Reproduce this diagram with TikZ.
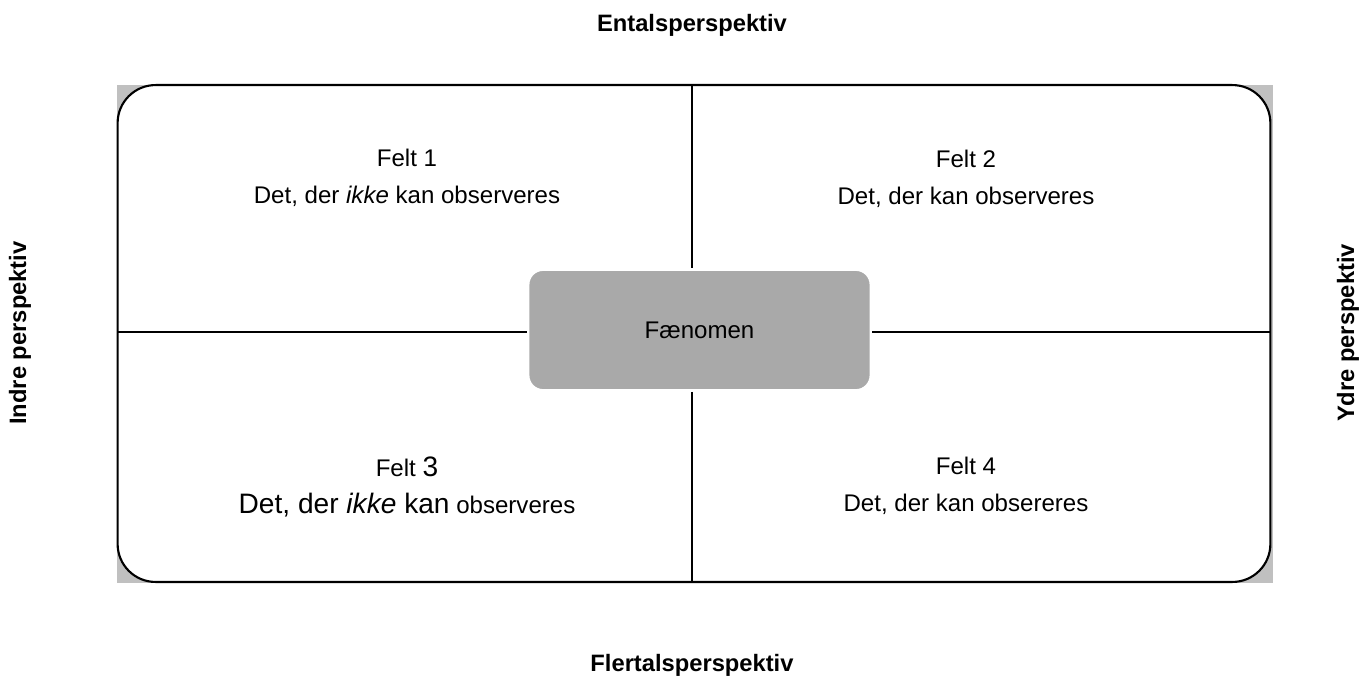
\documentclass[tikz,border=0pt]{standalone}
\usepackage{fontspec}
\setmainfont{Liberation Sans}
\usetikzlibrary{positioning}
\definecolor{bggray}{HTML}{C0C0C0}
\definecolor{fengray}{HTML}{A9A9A9}
\tikzset{
	felt/.style={align=center,font=\fontsize{13.7}{21}\selectfont},
	axis label/.style={font=\bfseries\fontsize{13.5}{16}\selectfont}
}
\begin{document}
\begin{tikzpicture}[x=0.02cm,y=-0.02cm,line join = round, line cap = round]
		\useasboundingbox (0,0) rectangle (1367,680);
		\fill[bggray] (117,85) rectangle (1273,583);
		\node[draw,line width=1.2pt,fill=white,rounded corners=0.76cm,minimum width=23.06cm,minimum height=9.94cm,outer sep=0pt] (frame) at (694,333.5) {};
		\node[fill=fengray,draw=white,line width=1.6pt,rounded corners=0.3cm,minimum width=6.86cm,minimum height=2.42cm,font=\fontsize{13.7}{16}\selectfont] (feno) at (699.5,330) {Fænomen};
		\draw[line width=0.9pt,line cap=butt] (frame.north -| 692,0)--(692,0 |- feno.north) (692,0 |- feno.south)--(frame.south -| 692,0);
		\draw[line width=0.9pt,line cap=butt] (frame.west |- 0,332)--(feno.west |- 0,332) (feno.east |- 0,332)--(frame.east |- 0,332);
		\node[felt] (f1) at (407,178) {Felt 1\\Det, der \textit{ikke} kan observeres};
		\node[felt] (f2) at (966,179) {Felt 2\\Det, der kan observeres};
		\node[felt] (f3) at (407,487) {Felt {\fontsize{16}{21}\selectfont 3}\\{\fontsize{16}{21}\selectfont Det, der \textit{ikke} kan} observeres};
		\node[felt] (f4) at (966,486) {Felt 4\\Det, der kan obsereres};
		\node[axis label] (ental) at (692,25) {Entalsperspektiv};
		\node[axis label] (flertal) at (692,665) {Flertalsperspektiv};
		\node[axis label,rotate=90] (indre) at (20,333) {Indre perspektiv};
		\node[axis label,rotate=90] (ydre) at (1348,333) {Ydre perspektiv};
	\end{tikzpicture}
\end{document}
